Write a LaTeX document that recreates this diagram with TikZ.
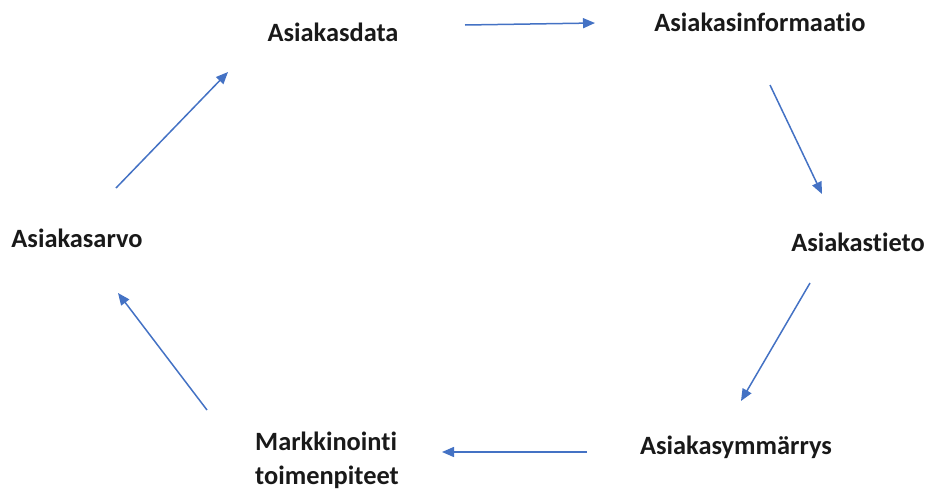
\documentclass[tikz,border=0pt]{standalone}
\usepackage{fontspec}
\setmainfont[Ligatures=NoCommon]{Carlito}
\usetikzlibrary{arrows.meta}
\definecolor{arrblue}{HTML}{4472C4}
\tikzset{
  lbl/.style={font=\fontsize{26.4}{34}\selectfont\bfseries, text=black!90, inner sep=0pt},
  flow/.style={draw=arrblue, line width=1.5pt, -{Triangle[length=12pt,width=10pt]}}
}
\begin{document}
\begin{tikzpicture}[x=1pt,y=-1pt]
\useasboundingbox (0,0) rectangle (928,490);
\node[lbl] (data) at (333,32) {Asiakasdata};
\node[lbl] (info) at (760,22) {Asiakasinformaatio};
\node[lbl] (tieto) at (858,242) {Asiakastieto};
\node[lbl] (ymm) at (736,447) {Asiakasymmärrys};
\node[lbl, align=left, anchor=west] (mark) at (255,460) {Markkinointi\\toimenpiteet};
\node[lbl] (arvo) at (77,238) {Asiakasarvo};
\coordinate (a1s) at (465,25); \coordinate (a1e) at (595,23);
\coordinate (a2s) at (770,85); \coordinate (a2e) at (822,194);
\coordinate (a3s) at (810,283); \coordinate (a3e) at (741,401);
\coordinate (a4s) at (587,452); \coordinate (a4e) at (442,452);
\coordinate (a5s) at (207,410); \coordinate (a5e) at (118,293);
\coordinate (a6s) at (116,188); \coordinate (a6e) at (228,72);
\draw[flow] (a1s) -- (a1e);
\draw[flow] (a2s) -- (a2e);
\draw[flow] (a3s) -- (a3e);
\draw[flow] (a4s) -- (a4e);
\draw[flow] (a5s) -- (a5e);
\draw[flow] (a6s) -- (a6e);
\end{tikzpicture}
\end{document}
